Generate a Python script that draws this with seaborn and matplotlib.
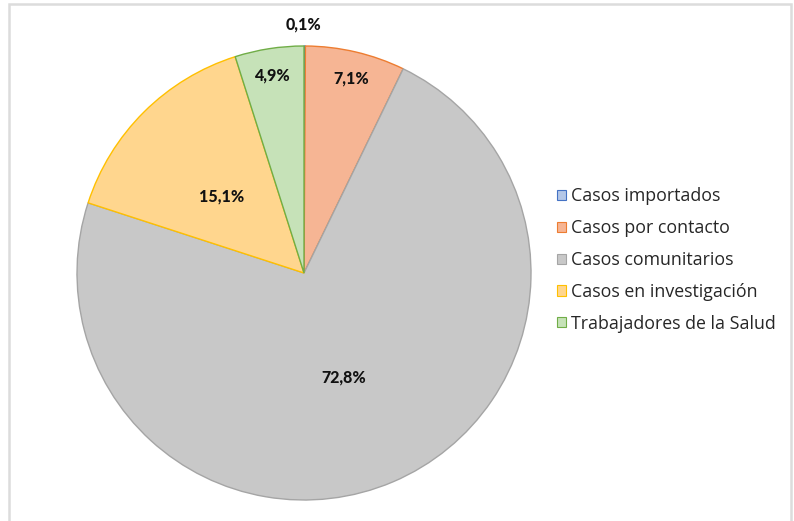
import matplotlib
matplotlib.use("Agg")
import matplotlib.pyplot as plt
import seaborn as sns
from matplotlib.patches import Patch, Rectangle

categorias = ["Casos importados", "Casos por contacto", "Casos comunitarios",
              "Casos en investigación", "Trabajadores de la Salud"]
porcentajes = [0.1, 7.1, 72.8, 15.1, 4.9]
etiquetas = ["0,1%", "7,1%", "72,8%", "15,1%", "4,9%"]

colores = ["#B4C7E7", "#F6B594", "#C8C8C8", "#FFD68E", "#C6E2B8"]
bordes = ["#4472C4", "#ED7D31", "#A5A5A5", "#FFC000", "#70AD47"]
# label positions (in pie radius units), Excel-style placement
pos_etiquetas = [(0.0, 1.093), (0.208, 0.858), (0.173, -0.46), (-0.363, 0.336), (-0.142, 0.872)]

sns.set_theme(style="white")
plt.rcParams["font.family"] = ["Lato", "DejaVu Sans"]

fig = plt.figure(figsize=(7.94, 5.21), dpi=100)
ax = fig.add_axes([77 / 794, 21 / 521, 454 / 794, 454 / 521])

wedges, _ = ax.pie(porcentajes, colors=colores, startangle=90, counterclock=False,
                   wedgeprops=dict(linewidth=1.0))
for w, b in zip(wedges, bordes):
    w.set_edgecolor(b)

for txt, (x, y) in zip(etiquetas, pos_etiquetas):
    ax.text(x, y, txt, ha="center", va="center", fontsize=11.5, fontweight="black",
            color="#111111")

ax.set_xlim(-1, 1)
ax.set_ylim(-1, 1)
ax.axis("off")

handles = [Patch(facecolor=c, edgecolor=b, linewidth=0.8) for c, b in zip(colores, bordes)]
fig.legend(handles, categorias, loc="center left", bbox_to_anchor=(557 / 794, 1 - 260 / 521),
           frameon=False, prop={"family": ["Open Sans", "DejaVu Sans"], "size": 12.8},
           handlelength=0.5, handleheight=0.5, handletextpad=0.3,
           labelspacing=0.78, borderpad=0, borderaxespad=0)

# outer chart frame
fig.patches.append(Rectangle((9 / 794, -0.05), (791 - 9) / 794, 1.05 - 4 / 521,
                             transform=fig.transFigure, fill=False,
                             edgecolor="#DCDCDC", linewidth=1.8))

fig.savefig("out.png", dpi=100)
